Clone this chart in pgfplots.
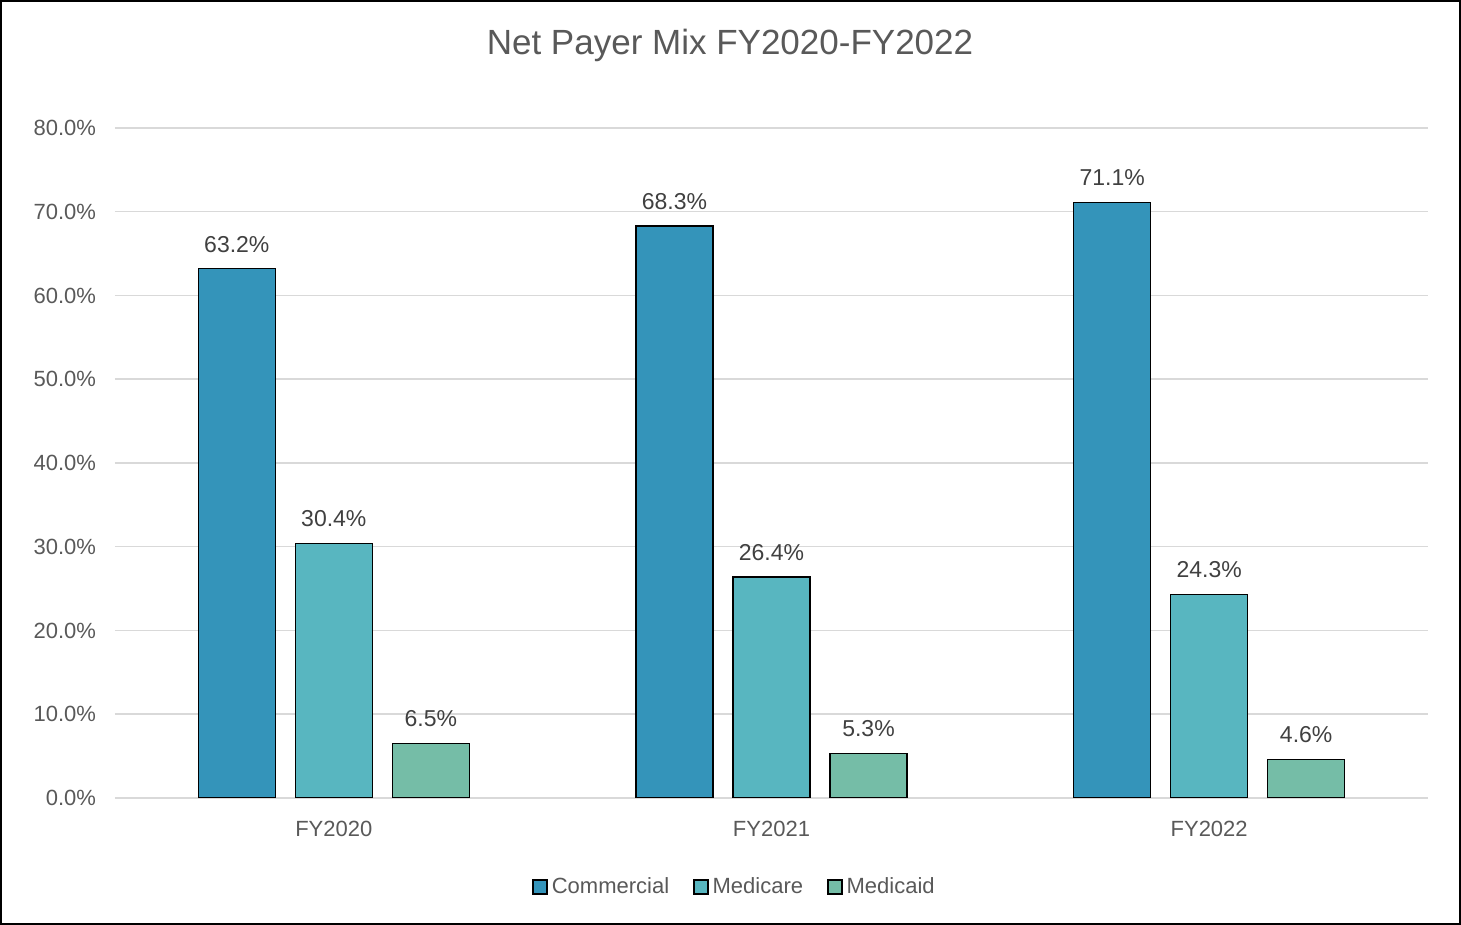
\documentclass[border=0pt]{standalone}
\usepackage{pgfplots}
\pgfplotsset{compat=1.18}
\usepackage{fontspec}
\setmainfont{Liberation Sans}
\definecolor{cCom}{HTML}{3494BA}
\definecolor{cMcr}{HTML}{58B6C0}
\definecolor{cMcd}{HTML}{75BDA7}
\definecolor{txt}{HTML}{595959}
\definecolor{lab}{HTML}{404040}
\definecolor{gridc}{HTML}{D9D9D9}
\begin{document}
\begin{tikzpicture}[x=1pt,y=1pt]
\useasboundingbox (0,0) rectangle (730.5,462.5);
\draw[line width=1pt,black] (0.5,0.5) rectangle (730,462);
\node[text=txt,font=\fontsize{17.5}{20}\selectfont] at (365,440) {Net Payer Mix FY2020-FY2022};
\begin{axis}[
  at={(57.5pt,63.5pt)}, anchor=south west,
  scale only axis, width=656.5pt, height=335pt,
  xmin=-0.5, xmax=2.5, ymin=0, ymax=80,
  xtick={0,1,2}, xticklabels={FY2020,FY2021,FY2022},
  ytick={0,10,...,80},
  /pgf/number format/assume math mode=true,
  yticklabel={\pgfmathprintnumber[fixed,fixed zerofill,precision=1]{\tick}\%},
  xmajorgrids=false, ymajorgrids, grid style={draw=gridc, line width=0.75pt},
  axis x line*=bottom, axis y line*=left,
  y axis line style={draw=none},
  x axis line style={draw=gridc, line width=0.75pt, -},
  major tick length=0pt,
  tick label style={text=txt, font=\fontsize{11}{13}\selectfont},
  xticklabel style={yshift=-8pt},
  yticklabel style={xshift=-6pt},
  ybar, bar width=38.5pt,
  every axis plot/.append style={draw=black, line width=0.75pt},
  nodes near coords={\pgfmathprintnumber[fixed,fixed zerofill,precision=1]{\pgfplotspointmeta}\%},
  every node near coord/.append style={text=lab, font=\fontsize{11.5}{13}\selectfont, yshift=4.5pt},
  legend style={at={(axis description cs:0.5,0)}, anchor=center, yshift=-44.5pt, xshift=-18pt, draw=none,
     legend columns=3, font=\fontsize{11}{13}\selectfont, text=txt,
     /tikz/every even column/.append style={column sep=10pt}},
  legend image code/.code={\draw[#1,draw=black,line width=0.75pt] (0pt,-3.5pt) rectangle (7pt,3.5pt);},
]
\addplot[fill=cCom, bar shift=-48.5pt] coordinates {(0,63.2) (1,68.3) (2,71.1)};
\addplot[fill=cMcr, bar shift=0pt] coordinates {(0,30.4) (1,26.4) (2,24.3)};
\addplot[fill=cMcd, bar shift=48.5pt] coordinates {(0,6.5) (1,5.3) (2,4.6)};
\legend{Commercial,Medicare,Medicaid}
\end{axis}
\end{tikzpicture}
\end{document}
